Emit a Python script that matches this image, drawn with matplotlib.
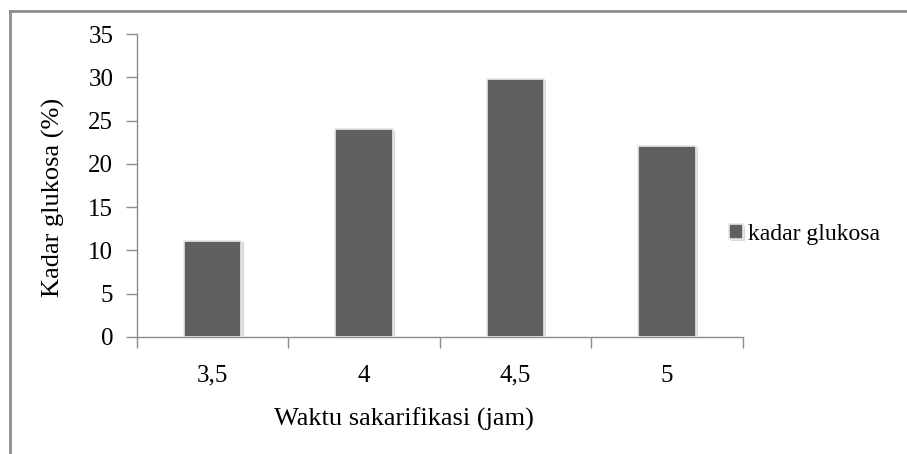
import matplotlib
matplotlib.use("Agg")
import matplotlib.pyplot as plt
from matplotlib.lines import Line2D
import matplotlib.patheffects as pe

categories = ["3,5", "4", "4,5", "5"]
kadar_glukosa = [11.1, 24.0, 29.8, 22.1]
y_ticks = [0, 5, 10, 15, 20, 25, 30, 35]

plt.rcParams["font.family"] = ["Liberation Serif", "DejaVu Serif"]

fig = plt.figure(figsize=(9.07, 4.54), dpi=100)
ax = fig.add_axes([0.151, 0.258, 0.668, 0.667])

x = list(range(len(categories)))
bars = ax.bar(x, kadar_glukosa, width=0.38, color="#606060",
              edgecolor="#e8e8e8", linewidth=1.2, label="kadar glukosa", zorder=3)
for b in bars:
    b.set_path_effects([pe.SimplePatchShadow(offset=(1.5, -1), shadow_rgbFace="#d0d0d0", alpha=0.8),
                        pe.Normal()])

ax.set_xlim(-0.5, len(categories) - 0.5)
ax.set_ylim(0, 35)
ax.set_yticks(y_ticks)
ax.set_xticks(x)
ax.set_xticklabels(categories)
ax.set_xticks([i - 0.5 for i in range(len(categories) + 1)], minor=True)
ax.tick_params(axis="x", which="major", length=0, pad=20, labelsize=18)
ax.tick_params(axis="x", which="minor", length=8, color="#8c8c8c", width=1)
ax.tick_params(axis="y", length=8, color="#8c8c8c", width=1, pad=9, labelsize=18)

for side in ("top", "right"):
    ax.spines[side].set_visible(False)
for side in ("left", "bottom"):
    ax.spines[side].set_color("#8c8c8c")
    ax.spines[side].set_linewidth(1)

ax.set_ylabel("Kadar glukosa (%)", fontsize=19)
ax.set_xlabel("Waktu sakarifikasi (jam)", fontsize=19)
ax.yaxis.set_label_coords(-0.118, 0.462)
ax.xaxis.set_label_coords(0.441, -0.235)

ax.legend(loc="center left", bbox_to_anchor=(0.942, 0.337), frameon=False,
          fontsize=17, handlelength=0.6, handleheight=0.6, handletextpad=0.2)

# outer chart border (top and left)
fig.add_artist(Line2D([10 / 907, 1.0], [1 - 11 / 454, 1 - 11 / 454],
                      transform=fig.transFigure, color="#8c8c8c", linewidth=2))
fig.add_artist(Line2D([10 / 907, 10 / 907], [0.0, 1 - 11 / 454],
                      transform=fig.transFigure, color="#8c8c8c", linewidth=2))

fig.savefig("out.png", dpi=100)
